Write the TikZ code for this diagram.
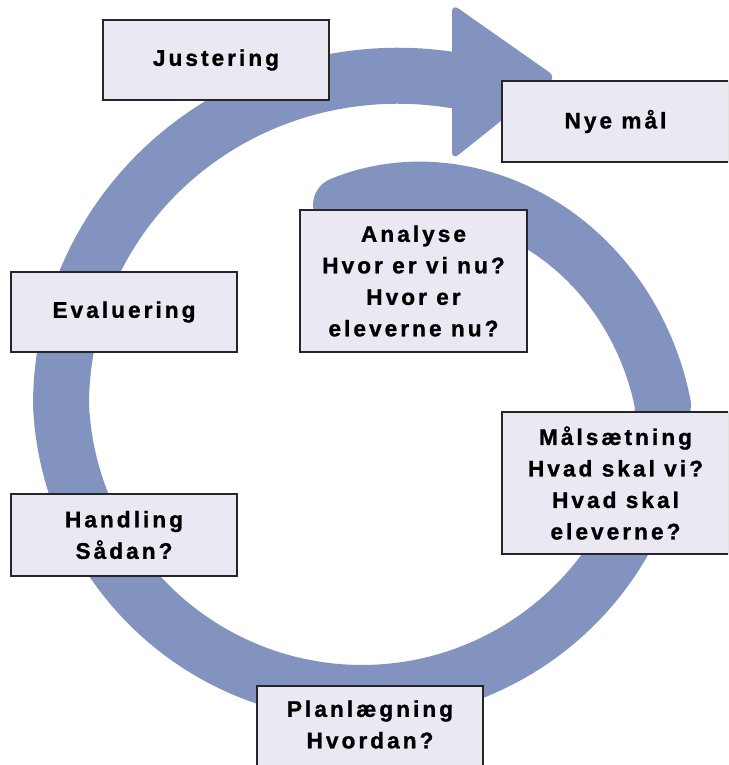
\documentclass[tikz,border=0pt]{standalone}
\usepackage{fontspec}
\setmainfont{Liberation Sans}[LetterSpace=13.5, BoldFeatures={FakeBold=1.2}]
\definecolor{bandc}{RGB}{131,147,192}
\definecolor{boxfill}{RGB}{234,233,243}
\begin{document}
\begin{tikzpicture}[x=1pt,y=-1pt,
  declare function={rr(\t) = (\t>=0) ? (301-1.04*\t) : ((\t>=-180) ? (301-13*sin(-\t)) : (301+36*((-\t-180)/105)^2));},
  boxst/.style={draw=black!85, line width=1.2pt, fill=boxfill},
  box/.style={boxst, inner sep=0pt, align=center, minimum width=226pt, font=\bfseries\fontsize{22.6}{31.5}\selectfont},
  txt/.style={inner sep=0pt, align=center, font=\bfseries\fontsize{22.6}{31.5}\selectfont}]
\useasboundingbox (0,0) rectangle (728,765);
\clip (0,0) rectangle (728,765);
% spiral band
\draw[bandc, line width=56pt, line cap=round, line join=round]
  plot[variable=\t, domain=96:-285.6, samples=200] ({362+rr(\t)*cos(\t)}, {405-rr(\t)*sin(\t)});
% arrow head
\fill[bandc, rounded corners=8pt] (452,4) -- (556,77) -- (452,160) -- cycle;
% boxes
\node[box, minimum height=80pt] (just) at (216,60) {Justering};
\node[box, minimum width=227pt, minimum height=81pt] (nye) at (615.5,121.5) {Nye mål};
\node[box, minimum width=227pt, minimum height=142pt] (analyse) at (413.5,281) {Analyse\\Hvor er vi nu?\\Hvor er\\eleverne nu?};
\node[box, minimum height=80pt] (eval) at (124,312) {Evaluering};
\node[box, minimum width=227pt, minimum height=142pt] (maal) at (615.5,483) {Målsætning\\Hvad skal vi?\\Hvad skal\\eleverne?};
\node[box, minimum height=82pt] (handl) at (124,535) {Handling\\Sådan?};
\draw[boxst] (257,686) rectangle (483,800);
\node[txt] (plan) at (370,724.5) {Planlægning\\Hvordan?};
\end{tikzpicture}
\end{document}
